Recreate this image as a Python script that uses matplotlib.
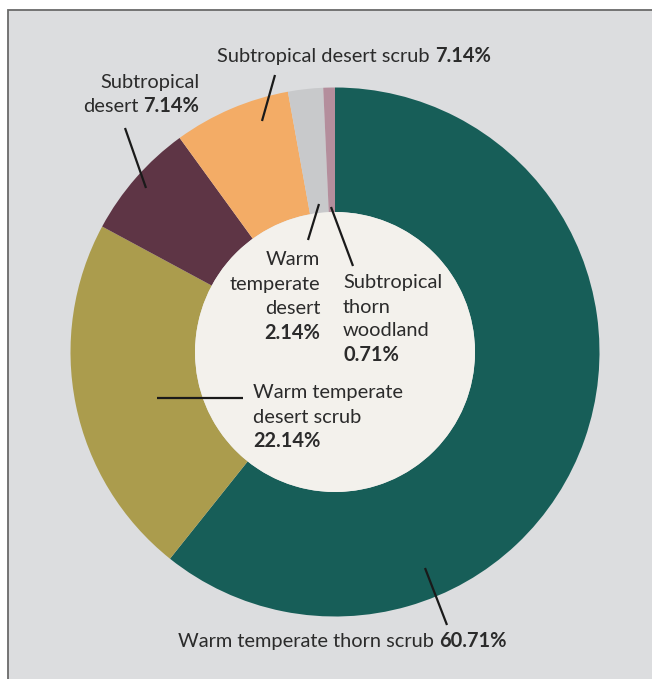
import matplotlib
matplotlib.use("Agg")
import matplotlib.pyplot as plt
from matplotlib.patches import Rectangle, Circle

# ---- data ----
categories = ["Warm temperate thorn scrub", "Warm temperate desert scrub",
              "Subtropical desert", "Subtropical desert scrub",
              "Warm temperate desert", "Subtropical thorn woodland"]
values = [60.71, 22.14, 7.14, 7.14, 2.14, 0.71]
colors = ["#175e58", "#ab9c4d", "#5e3545", "#f3ac66", "#c8c9cb", "#b48e9c"]
pct_labels = ["60.71%", "22.14%", "7.14%", "7.14%", "2.14%", "0.71%"]

W, H = 652, 679
fig = plt.figure(figsize=(W / 100, H / 100), dpi=100, facecolor="white")
ax = fig.add_axes([0, 0, 1, 1])

FONT = "Lato"
FS = 14.4
TXT = "#2b2b2b"

def py(y):  # pixel y from top -> data y
    return H - y

# background panel with frame (top + left visible)
ax.add_patch(Rectangle((8, -20), W + 40, py(10) + 20, facecolor="#dcdddf",
                       edgecolor="#6a6a6a", linewidth=1.3, zorder=0))

cx, cy = 335, 352
R_out, R_in = 264.5, 140
ax.pie(values, colors=colors, startangle=90, counterclock=False,
       center=(cx, py(cy)), radius=R_out,
       wedgeprops=dict(width=R_out - R_in, linewidth=0))
ax.add_patch(Circle((cx, py(cy)), R_in, facecolor="#f3f1ec", edgecolor="none", zorder=3))

ax.set_xlim(0, W)
ax.set_ylim(0, H)
ax.set_aspect("auto")
ax.axis("off")

# leader lines (pixel coords)
leaders = [
    ((425, 568), (447, 625)),   # thorn scrub
    ((157, 398), (243, 398)),   # desert scrub
    ((125, 128), (146, 188)),   # subtropical desert
    ((275, 75), (262, 121)),    # subtropical desert scrub
    ((319, 204), (308, 240)),   # warm temperate desert
    ((331, 207), (353, 266)),   # subtropical thorn woodland
]
for (x0, y0), (x1, y1) in leaders:
    ax.plot([x0, x1], [py(y0), py(y1)], color="#1a1a1a", lw=1.6,
            solid_capstyle="butt", zorder=5)

fig.canvas.draw()
renderer = fig.canvas.get_renderer()

def label(lines, x, baselines, align):
    """lines: list of (regular, bold) tuples."""
    for (reg, bold), yb in zip(lines, baselines):
        parts = []
        if reg:
            parts.append(ax.text(0, py(yb), reg, fontsize=FS, family=FONT, color=TXT,
                                 va="baseline", ha="left", zorder=6))
        if bold:
            parts.append(ax.text(0, py(yb), bold, fontsize=FS, family=FONT, color=TXT,
                                 fontweight="bold", va="baseline", ha="left", zorder=6))
        widths = [p.get_window_extent(renderer).width for p in parts]
        space = 5 if (reg and bold) else 0
        total = sum(widths) + space
        if align == "left":
            x0 = x
        elif align == "right":
            x0 = x - total
        else:
            x0 = x - total / 2
        cur = x0
        for p, w in zip(parts, widths):
            p.set_x(cur)
            cur += w + space

label([(categories[0], pct_labels[0])], 342, [647], "center")
label([("Warm temperate", ""), ("desert scrub", ""), ("", pct_labels[1])],
      253, [398, 423, 447], "left")
label([("Subtropical", ""), ("desert", pct_labels[2])], 199, [88, 112], "right")
label([(categories[3], pct_labels[3])], 354, [62], "center")
label([("Warm", ""), ("temperate", ""), ("desert", ""), ("", pct_labels[4])],
      320, [265, 290, 314, 339], "right")
label([("Subtropical", ""), ("thorn", ""), ("woodland", ""), ("", pct_labels[5])],
      343, [288, 313, 336, 361], "left")

fig.savefig("out.png", dpi=100, facecolor="white")
